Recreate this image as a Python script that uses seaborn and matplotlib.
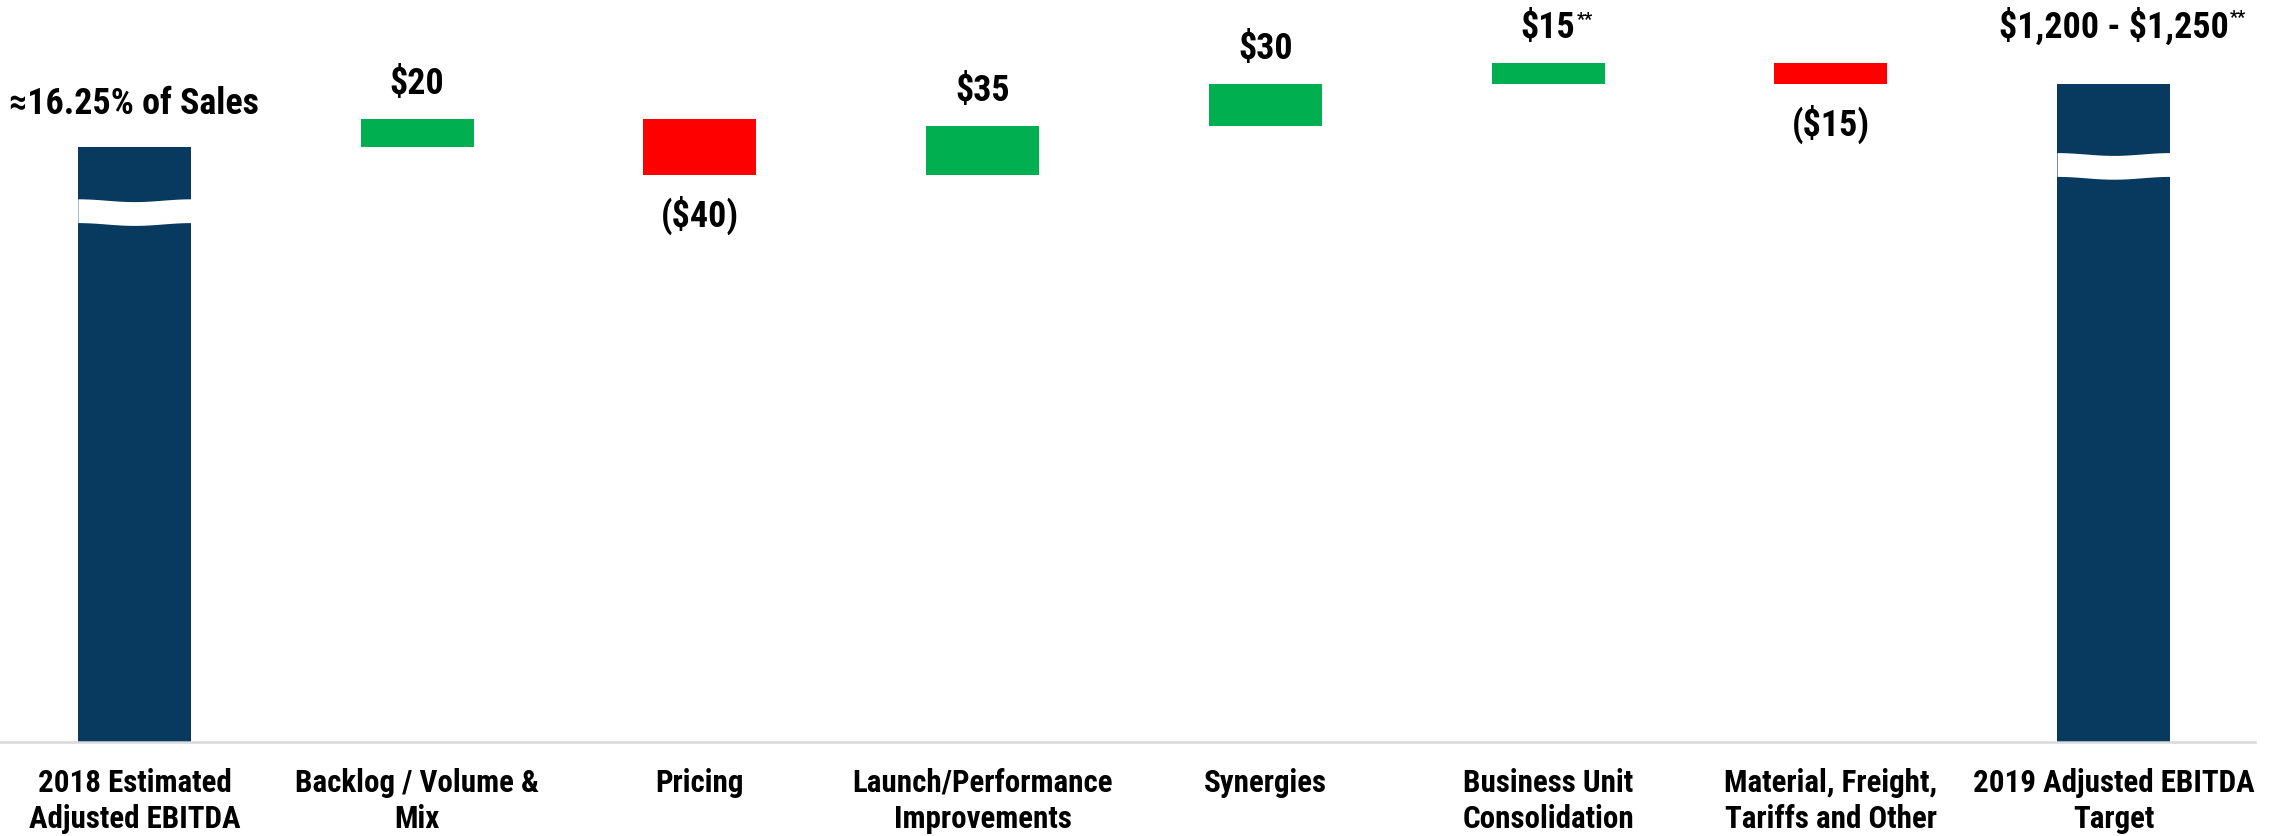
import numpy as np
import pandas as pd
import matplotlib
matplotlib.use("Agg")
import matplotlib.pyplot as plt
import seaborn as sns

# Categories and values (USD millions)
categories = [
    "2018 Estimated\nAdjusted EBITDA",
    "Backlog / Volume &\nMix",
    "Pricing",
    "Launch/Performance\nImprovements",
    "Synergies",
    "Business Unit\nConsolidation",
    "Material, Freight,\nTariffs and Other",
    "2019 Adjusted EBITDA\nTarget",
]
start_value = 1180
changes = [20, -40, 35, 30, 15, -15]
value_labels = ["≈16.25% of Sales", "$20", "($40)", "$35", "$30", "$15", "($15)", "$1,200 - $1,250"]
footnotes = ["", "", "", "", "", "**", "", "**"]

NAVY = "#073A5E"
GREEN = "#00B050"
RED = "#FF0000"
GRID = "#D9D9D9"

sns.set_theme(style="white")
plt.rcParams["font.family"] = ["Liberation Sans Narrow", "DejaVu Sans Condensed", "Roboto Condensed",
                               "Liberation Sans", "DejaVu Sans"]

# build waterfall table
floor = 755  # truncated axis floor
running = start_value
bottoms, heights, colors = [floor], [start_value - floor], [NAVY]
for c in changes:
    lo = min(running, running + c)
    bottoms.append(lo)
    heights.append(abs(c))
    colors.append(GREEN if c > 0 else RED)
    running += c
end_value = running
bottoms.append(floor)
heights.append(end_value - floor)
colors.append(NAVY)

df = pd.DataFrame({"cat": categories, "height": heights, "bottom": bottoms})

W, H = 2274, 837
fig = plt.figure(figsize=(W / 100, H / 100), dpi=100)
ax_left, ax_right = -7, 2255
ax_bottom = 94
ax = fig.add_axes([ax_left / W, ax_bottom / H, (ax_right - ax_left) / W, (H - ax_bottom) / H])

sns.barplot(data=df, x="cat", y="height", bottom=df["bottom"].values, width=0.4,
            errorbar=None, ax=ax, linewidth=0, color=NAVY, saturation=1)
for p, col in zip(ax.patches, colors):
    p.set_facecolor(col)
    p.set_edgecolor("none")

px_per_unit = 1.4
ax.set_ylim(floor, floor + (H - ax_bottom) / px_per_unit)
ax.set_xlim(-0.5, 7.5)

# pick font sizes so text widths match the original narrow typeface
renderer = fig.canvas.get_renderer()
def fit_size(s, target_px, base=30):
    t = fig.text(0, 0, s, fontsize=base, fontweight="bold", parse_math=False)
    w = t.get_window_extent(renderer).width
    t.remove()
    return min(base, base * target_px / w)

tick_fs = fit_size("2019 Adjusted EBITDA", 282)
val_fs = fit_size("≈16.25% of Sales", 250)

# axis break marks on the total bars
for i, top, depth in [(0, start_value, 37), (len(categories) - 1, end_value, 49)]:
    xs = np.linspace(i - 0.2, i + 0.2, 60)
    t = (xs - xs[0]) / (xs[-1] - xs[0])
    wave = 1.0 * np.sin(2 * np.pi * t - np.pi / 2) + 1.0
    upper = top - depth - wave
    ax.fill_between(xs, upper - 17, upper, color="white", lw=0, zorder=5)

# value labels
tops = [b + h for b, h in zip(bottoms, heights)]
texts = []
for i, lab in enumerate(value_labels):
    if i == 0:
        y, off = tops[i], 32
    elif i == len(value_labels) - 1:
        y, off = tops[i], 42
    elif changes[i - 1] > 0:
        y, off = tops[i], 26
    else:
        y, off = bottoms[i], -28
    t = ax.annotate(lab, xy=(i, y), xytext=(0, off), textcoords="offset points",
                    ha="center", va="center", fontsize=val_fs, fontweight="bold",
                    color="black", parse_math=False, annotation_clip=False)
    texts.append(t)

fig.canvas.draw()
for t, fn in zip(texts, footnotes):
    if fn:
        bb = t.get_window_extent(renderer)
        fig.text((bb.x1 + 1) / W, (bb.y1 - 1) / H, fn, ha="left", va="top",
                 fontsize=val_fs * 0.5, fontweight="bold", color="black")

# axes styling
ax.set_xlabel("")
ax.set_ylabel("")
ax.set_yticks([])
for s in ["left", "right", "top"]:
    ax.spines[s].set_visible(False)
ax.spines["bottom"].set_color(GRID)
ax.spines["bottom"].set_linewidth(1.8)
ax.set_xticks(range(len(categories)))
ax.set_xticklabels(categories, fontsize=tick_fs, fontweight="bold", linespacing=1.25)
ax.tick_params(axis="x", which="major", length=0, pad=18, colors="black")
ax.set_xticks(np.arange(-0.5, len(categories), 1.0), minor=True)
ax.tick_params(axis="x", which="minor", length=7, width=1.8, color=GRID)

fig.savefig("out.png", dpi=100)
